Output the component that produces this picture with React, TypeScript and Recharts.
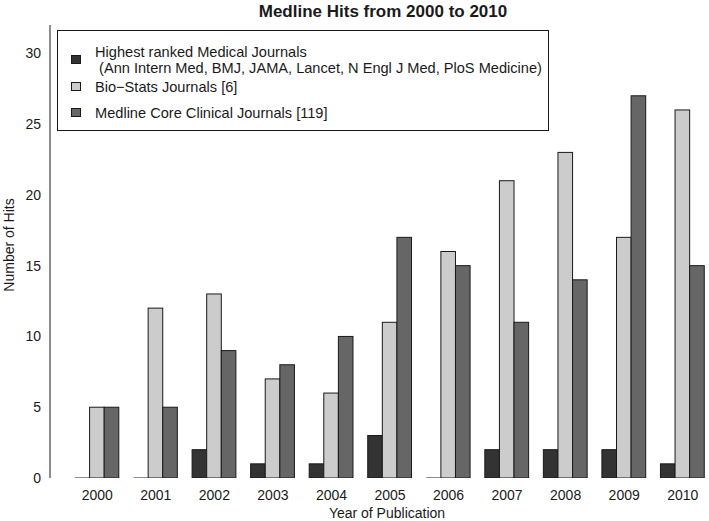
import { BarChart, Bar, XAxis, YAxis, Legend } from 'recharts';

const years = ['2000', '2001', '2002', '2003', '2004', '2005', '2006', '2007', '2008', '2009', '2010'];
const highestRanked = [0, 0, 2, 1, 1, 3, 0, 2, 2, 2, 1];
const bioStats = [5, 12, 13, 7, 6, 11, 16, 21, 23, 17, 26];
const medlineCore = [5, 5, 9, 8, 10, 17, 15, 11, 14, 27, 15];
const yTicks = [0, 5, 10, 15, 20, 25, 30];

const legendLines: Record<string, string[]> = {
  highest: ['Highest ranked Medical Journals', ' (Ann Intern Med, BMJ, JAMA, Lancet, N Engl J Med, PloS Medicine)'],
  bio: ['Bio\u2212Stats Journals [6]'],
  medline: ['Medline Core Clinical Journals [119]'],
};

const data = years.map((year, i) => ({
  year,
  highest: highestRanked[i],
  bio: bioStats[i],
  medline: medlineCore[i],
}));

const INK = '#1a1a1a';
const FONT = '"Liberation Sans", Arial, sans-serif';

// R draws zero-height bars as a flat line, so do the same
function RBar(props: any) {
  const { x, y, width, height, fill } = props;
  if (!height) {
    return <line x1={x} x2={x + width} y1={y} y2={y} stroke={INK} strokeWidth={1} />;
  }
  return <rect x={x} y={y} width={width} height={height} fill={fill} stroke={INK} strokeWidth={1} />;
}

// row layout inside the legend box: square centre y, text line centres
const rowPos: Record<string, { sq: number; lines: number[] }> = {
  highest: { sq: 29, lines: [21, 37] },
  bio: { sq: 56, lines: [56] },
  medline: { sq: 82, lines: [82] },
};

function LegendBox({ payload }: any) {
  return (
    <div
      style={{
        position: 'relative',
        width: 492,
        height: 101,
        border: `1px solid ${INK}`,
        boxSizing: 'border-box',
        background: '#fff',
        fontFamily: FONT,
        fontSize: 14.6,
        color: INK,
      }}
    >
      {(payload || []).map((p: any) => {
        const key = p.dataKey as string;
        const pos = rowPos[key];
        if (!pos) return null;
        return (
          <div key={key}>
            <div
              style={{
                position: 'absolute',
                left: 13,
                top: pos.sq - 5,
                width: 10,
                height: 9,
                background: p.color,
                border: `1px solid ${INK}`,
                boxSizing: 'border-box',
              }}
            />
            {legendLines[key].map((line, j) => (
              <div
                key={j}
                style={{
                  position: 'absolute',
                  left: 37,
                  top: pos.lines[j] - 9,
                  lineHeight: '18px',
                  whiteSpace: 'pre',
                }}
              >
                {line}
              </div>
            ))}
          </div>
        );
      })}
    </div>
  );
}

export default function App() {
  return (
    <div
      style={{
        position: 'fixed',
        left: 0,
        top: 0,
        width: 709,
        height: 521,
        overflow: 'hidden',
        background: '#fff',
        fontFamily: FONT,
      }}
    >
      <div
        style={{
          position: 'absolute',
          left: 0,
          width: 766,
          top: 2,
          textAlign: 'center',
          fontWeight: 'bold',
          fontSize: 17,
          color: INK,
          lineHeight: '20px',
        }}
      >
        Medline Hits from 2000 to 2010
      </div>
      <div
        style={{
          position: 'absolute',
          left: 9,
          top: 245,
          transform: 'translate(-50%, -50%) rotate(-90deg)',
          fontSize: 14,
          color: INK,
          whiteSpace: 'nowrap',
          lineHeight: '16px',
        }}
      >
        Number of Hits
      </div>
      <div
        style={{
          position: 'absolute',
          left: 0,
          width: 774,
          top: 505,
          textAlign: 'center',
          fontSize: 14,
          color: INK,
          lineHeight: '16px',
        }}
      >
        Year of Publication
      </div>
      <BarChart
        width={712}
        height={521}
        data={data}
        margin={{ top: 25, right: 0, bottom: 13, left: 0 }}
        barGap={0}
        barSize={14.6}
        style={{ position: 'absolute', left: 0, top: 0 }}
      >
        <XAxis
          dataKey="year"
          height={30}
          padding={{ left: 18, right: 0 }}
          axisLine={false}
          tickLine={false}
          tickSize={0}
          tickMargin={12}
          interval={0}
          tick={{ fontSize: 14, fill: INK, fontFamily: FONT }}
        />
        <YAxis
          width={50}
          domain={[0, 32]}
          ticks={yTicks}
          allowDataOverflow
          axisLine={{ stroke: INK, strokeWidth: 1 }}
          tickLine={false}
          tickSize={0}
          tickMargin={9}
          tick={{ fontSize: 14, fill: INK, fontFamily: FONT }}
        />
        <Legend
          layout="vertical"
          align="center"
          verticalAlign="middle"
          content={<LegendBox />}
          wrapperStyle={{ position: 'absolute', left: 57, top: 30, width: 492, height: 101 }}
        />
        <Bar dataKey="highest" name="Highest ranked Medical Journals" fill="#333333" shape={<RBar />} isAnimationActive={false} />
        <Bar dataKey="bio" name="Bio-Stats Journals [6]" fill="#cccccc" shape={<RBar />} isAnimationActive={false} />
        <Bar dataKey="medline" name="Medline Core Clinical Journals [119]" fill="#666666" shape={<RBar />} isAnimationActive={false} />
      </BarChart>
    </div>
  );
}
